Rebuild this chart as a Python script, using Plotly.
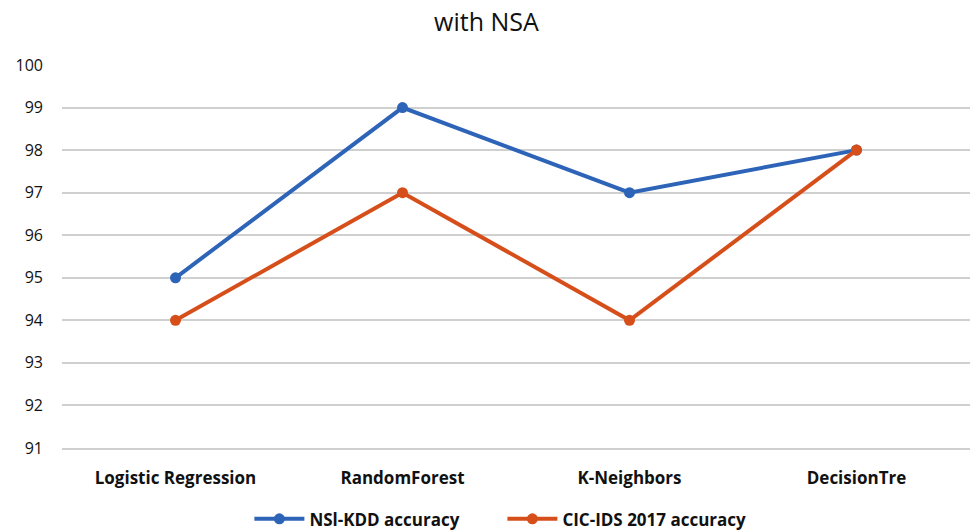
import plotly.graph_objects as go

categories = ["Logistic Regression", "RandomForest", "K-Neighbors", "DecisionTre"]
nsl_kdd = [95, 99, 97, 98]
cic_ids = [94, 97, 94, 98]
y_ticks = [91, 92, 93, 94, 95, 96, 97, 98, 99, 100]

BLUE = "#2E64B8"
ORANGE = "#D64F1B"
FONT = "Open Sans"

fig = go.Figure()
fig.add_trace(go.Scatter(x=categories, y=nsl_kdd, mode="lines+markers", name="NSl-KDD accuracy",
                         line=dict(color=BLUE, width=4), marker=dict(color=BLUE, size=11)))
fig.add_trace(go.Scatter(x=categories, y=cic_ids, mode="lines+markers", name="CIC-IDS 2017 accuracy",
                         line=dict(color=ORANGE, width=4), marker=dict(color=ORANGE, size=11)))

fig.update_layout(
    width=973, height=531,
    margin=dict(l=62, r=3, t=65, b=83, autoexpand=False),
    paper_bgcolor="white", plot_bgcolor="white",
    title=dict(text="with NSA", x=0.5, xanchor="center", y=0.958, yanchor="middle",
               font=dict(family=FONT, size=25, color="#111111")),
    font=dict(family=FONT, color="#111111"),
    showlegend=True,
    legend=dict(orientation="h", x=0.485, xanchor="center", yref="container", y=0.022, yanchor="middle",
                font=dict(family=FONT, size=17, color="#111111", weight="bold"),
                itemwidth=50, entrywidth=188, tracegroupgap=0),
    xaxis=dict(showgrid=False, showline=True, linecolor="#D0D0D0", linewidth=1.5, zeroline=False,
               range=[-0.5, 3.5], ticks="", ticklabelstandoff=14,
               tickfont=dict(family=FONT, size=17, color="#111111", weight="bold")),
    yaxis=dict(range=[91, 100], tickvals=y_ticks, showgrid=True, gridcolor="#D0D0D0", gridwidth=1.5,
               zeroline=False, showline=False, ticks="", ticklabelstandoff=18,
               tickfont=dict(family=FONT, size=16, color="#111111")),
)

fig.write_html("out.html")
